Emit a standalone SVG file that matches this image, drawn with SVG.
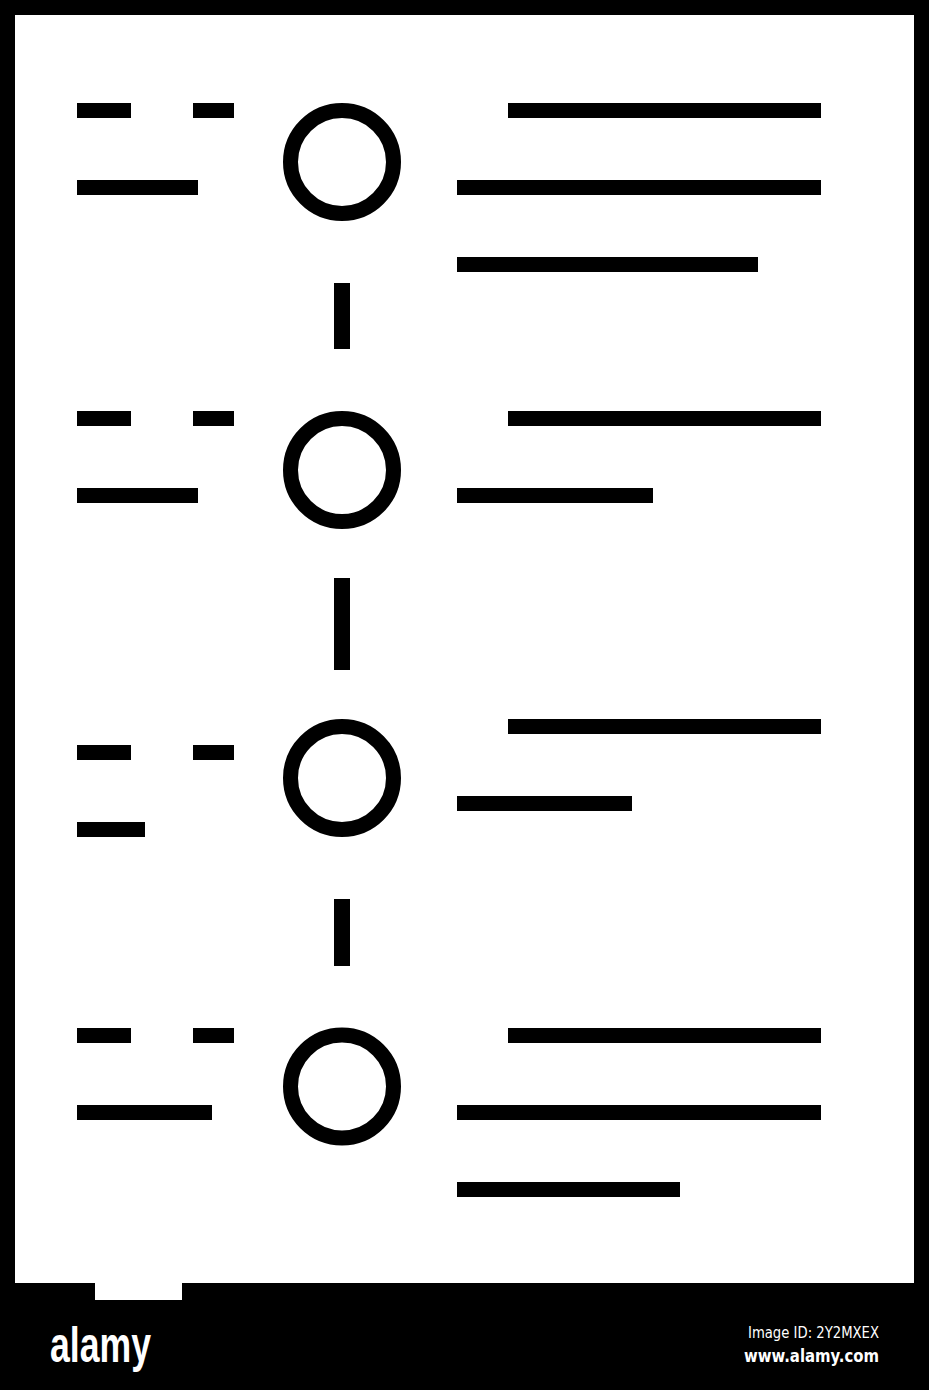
<svg xmlns="http://www.w3.org/2000/svg" width="929" height="1390" viewBox="0 0 929 1390">
<style>
.bar{fill:#000}
.ring{fill:none;stroke:#000;stroke-width:15}
.logo{font-family:"Liberation Sans",Arial,sans-serif;font-weight:bold;fill:#fff}
.info{font-family:"DejaVu Sans Condensed","Liberation Sans",sans-serif;fill:#fff}
</style>
<rect x="0" y="0" width="929" height="1390" fill="#000"/>
<rect x="15" y="15" width="899" height="1268" fill="#fff"/>
<rect x="95" y="1283" width="87" height="17" fill="#fff"/>

<g id="connectors">
<rect class="bar" x="334" y="283" width="16" height="66"/>
<rect class="bar" x="334" y="578" width="16" height="92"/>
<rect class="bar" x="334" y="899" width="16" height="67"/>
</g>

<g id="node1">
<rect class="bar" x="77" y="103" width="54" height="15"/>
<rect class="bar" x="193" y="103" width="41" height="15"/>
<rect class="bar" x="77" y="180" width="121" height="15"/>
<circle class="ring" cx="342" cy="162" r="51.5"/>
<rect class="bar" x="508" y="103" width="313" height="15"/>
<rect class="bar" x="457" y="180" width="364" height="15"/>
<rect class="bar" x="457" y="257" width="301" height="15"/>
</g>

<g id="node2">
<rect class="bar" x="77" y="411" width="54" height="15"/>
<rect class="bar" x="193" y="411" width="41" height="15"/>
<rect class="bar" x="77" y="488" width="121" height="15"/>
<circle class="ring" cx="342" cy="470" r="51.5"/>
<rect class="bar" x="508" y="411" width="313" height="15"/>
<rect class="bar" x="457" y="488" width="196" height="15"/>
</g>

<g id="node3">
<rect class="bar" x="77" y="745" width="54" height="15"/>
<rect class="bar" x="193" y="745" width="41" height="15"/>
<rect class="bar" x="77" y="822" width="68" height="15"/>
<circle class="ring" cx="342" cy="778" r="51.5"/>
<rect class="bar" x="508" y="719" width="313" height="15"/>
<rect class="bar" x="457" y="796" width="175" height="15"/>
</g>

<g id="node4">
<rect class="bar" x="77" y="1028" width="54" height="15"/>
<rect class="bar" x="193" y="1028" width="41" height="15"/>
<rect class="bar" x="77" y="1105" width="135" height="15"/>
<circle class="ring" cx="342" cy="1086.5" r="51.5"/>
<rect class="bar" x="508" y="1028" width="313" height="15"/>
<rect class="bar" x="457" y="1105" width="364" height="15"/>
<rect class="bar" x="457" y="1182" width="223" height="15"/>
</g>

<g id="footer">
<text class="logo" x="50" y="1362" font-size="50" textLength="101" lengthAdjust="spacingAndGlyphs">alamy</text>
<text class="info" x="879" y="1338" font-size="15" text-anchor="end" textLength="131" lengthAdjust="spacingAndGlyphs">Image ID: 2Y2MXEX</text>
<text class="info" x="879" y="1362" font-size="18" font-weight="bold" text-anchor="end" textLength="135" lengthAdjust="spacingAndGlyphs">www.alamy.com</text>
</g>
</svg>
